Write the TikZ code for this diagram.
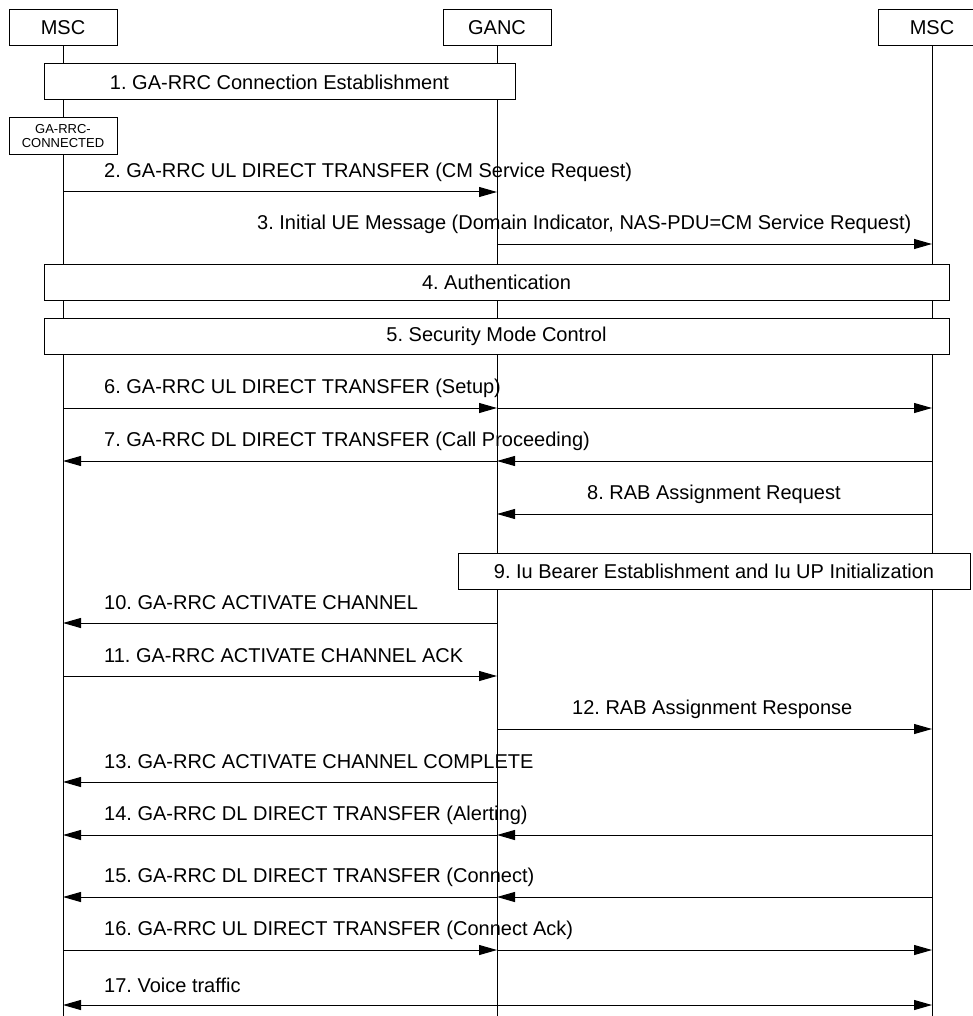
\documentclass[tikz,border=0pt]{standalone}
\usepackage{fontspec}
\setmainfont{Liberation Sans}
\frenchspacing
\usetikzlibrary{arrows.meta,calc,positioning}

\tikzset{
  entity/.style={draw, fill=white, line width=1pt, minimum width=108pt,
    minimum height=36pt, inner sep=0pt, font=\fontsize{20}{22}\selectfont},
  proc/.style={draw, fill=white, line width=1pt, minimum height=36pt,
    inner sep=0pt, font=\fontsize{20}{22}\selectfont},
  state/.style={draw, fill=white, line width=1pt, minimum width=108pt,
    minimum height=37pt, inner sep=0pt, align=center,
    font=\fontsize{13}{14}\selectfont},
  msg/.style={line width=1pt, -{Triangle[length=18pt,width=10pt]}},
  lbl/.style={anchor=west, inner sep=0pt, font=\fontsize{20}{22}\selectfont},
  life/.style={line width=1pt}
}

\begin{document}
\begin{tikzpicture}[x=1pt, y=-1pt]
  \useasboundingbox (0,0) rectangle (973,1016);

  % entidades
  \node[entity] (msc1) at (63,28) {MSC};
  \node[entity] (ganc) at (497,28) {GANC};
  \node[entity] (msc2) at (932,28) {MSC};

  % linhas de vida
  \foreach \e in {msc1,ganc,msc2}
    \draw[life] (\e.south) -- (\e |- 0,1016);

  % 1. estabelecimento da conexao
  \node[proc, minimum width=471pt] (est) at (279.5,82) {1. GA-RRC Connection Establishment};
  \node[state] (conn) at (63,136.5) {GA-RRC-\\CONNECTED};

  % 2-3
  \draw[msg] (msc1 |- 0,192) -- (ganc |- 0,192);
  \node[lbl] (l2) at (104,172) {2. GA-RRC UL DIRECT TRANSFER (CM Service Request)};
  \draw[msg] (ganc |- 0,244) -- (msc2 |- 0,244);
  \node[lbl] (l3) at (257,224) {3. Initial UE Message (Domain Indicator, NAS-PDU=CM Service Request)};

  % 4-5
  \node[proc, minimum width=905pt] (auth) at (496.5,282) {4. Authentication};
  \node[proc, minimum width=905pt] (sec) at (496.5,336) {5. Security Mode Control};

  % 6-7
  \draw[msg] (msc1 |- 0,408) -- (ganc |- 0,408);
  \draw[msg] (ganc |- 0,408) -- (msc2 |- 0,408);
  \node[lbl] (l6) at (104,388) {6. GA-RRC UL DIRECT TRANSFER (Setup)};
  \draw[msg] (msc2 |- 0,461) -- (ganc |- 0,461);
  \draw[msg] (ganc |- 0,461) -- (msc1 |- 0,461);
  \node[lbl] (l7) at (104,441) {7. GA-RRC DL DIRECT TRANSFER (Call Proceeding)};

  % 8-9
  \draw[msg] (msc2 |- 0,514) -- (ganc |- 0,514);
  \node[lbl] (l8) at (587,494) {8. RAB Assignment Request};
  \node[proc, minimum width=512pt] (iu) at (714,571) {9. Iu Bearer Establishment and Iu UP Initialization};

  % 10-13
  \draw[msg] (ganc |- 0,623) -- (msc1 |- 0,623);
  \node[lbl] (l10) at (104,603) {10. GA-RRC ACTIVATE CHANNEL};
  \draw[msg] (msc1 |- 0,676) -- (ganc |- 0,676);
  \node[lbl] (l11) at (104,656) {11. GA-RRC ACTIVATE CHANNEL ACK};
  \draw[msg] (ganc |- 0,729) -- (msc2 |- 0,729);
  \node[lbl] (l12) at (572,709) {12. RAB Assignment Response};
  \draw[msg] (ganc |- 0,782) -- (msc1 |- 0,782);
  \node[lbl] (l13) at (104,762) {13. GA-RRC ACTIVATE CHANNEL COMPLETE};

  % 14-16
  \draw[msg] (msc2 |- 0,835) -- (ganc |- 0,835);
  \draw[msg] (ganc |- 0,835) -- (msc1 |- 0,835);
  \node[lbl] (l14) at (104,815) {14. GA-RRC DL DIRECT TRANSFER (Alerting)};
  \draw[msg] (msc2 |- 0,897) -- (ganc |- 0,897);
  \draw[msg] (ganc |- 0,897) -- (msc1 |- 0,897);
  \node[lbl] (l15) at (104,877) {15. GA-RRC DL DIRECT TRANSFER (Connect)};
  \draw[msg] (msc1 |- 0,950) -- (ganc |- 0,950);
  \draw[msg] (ganc |- 0,950) -- (msc2 |- 0,950);
  \node[lbl] (l16) at (104,930) {16. GA-RRC UL DIRECT TRANSFER (Connect Ack)};

  % 17. trafego de voz
  \draw[msg, {Triangle[length=18pt,width=10pt]}-{Triangle[length=18pt,width=10pt]}]
    (msc1 |- 0,1005) -- (msc2 |- 0,1005);
  \node[lbl] (l17) at (104,985) {17. Voice traffic};
\end{tikzpicture}
\end{document}
